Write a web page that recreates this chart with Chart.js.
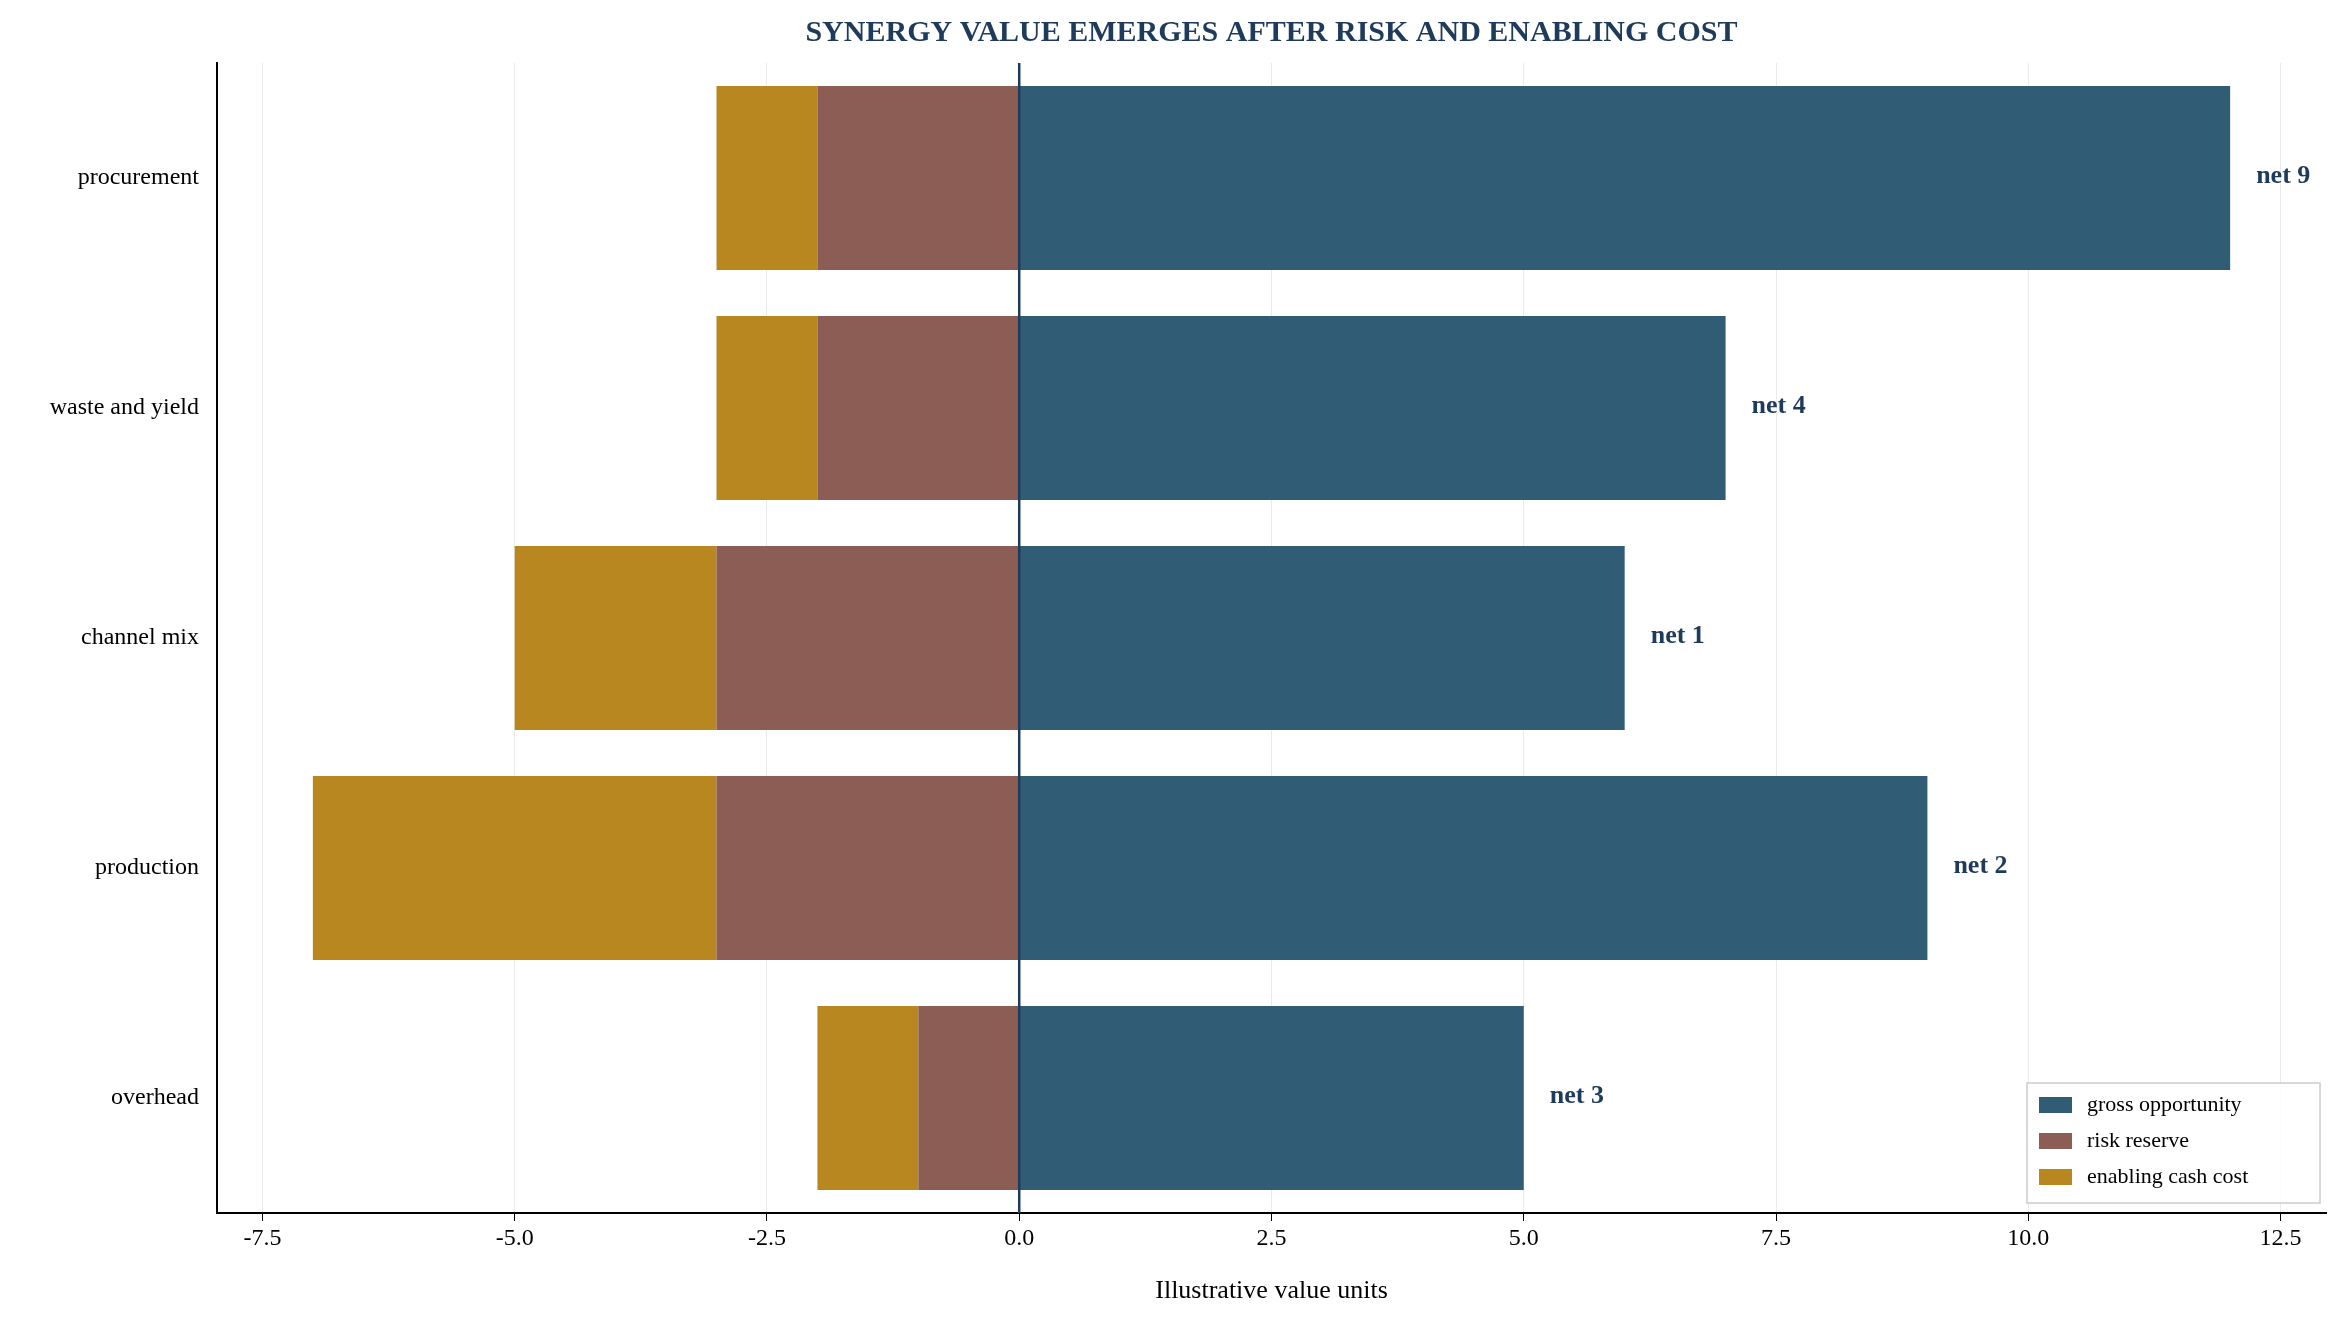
<!DOCTYPE html>
<html>
<head>
<meta charset="utf-8">
<script src="https://cdn.jsdelivr.net/npm/chart.js@4"></script>
<style>
  html, body { margin: 0; padding: 0; background: #fff; }
  #wrap { width: 2337px; height: 1319px; }
</style>
</head>
<body>
<div id="wrap"><canvas id="chart"></canvas></div>
<script>
// datos
const categorias = ['procurement', 'waste and yield', 'channel mix', 'production', 'overhead'];
const bruto = [12, 7, 6, 9, 5];
const riesgo = [-2, -2, -3, -3, -1];
const costo = [-1, -1, -2, -4, -1];
const netos = [9, 4, 1, 2, 3];
const ticksX = [-7.5, -5, -2.5, 0, 2.5, 5, 7.5, 10, 12.5];

const FUENTE = '"Liberation Serif", "Times New Roman", serif';
const AZUL = '#1f3b5c';

// titulo, linea del cero, etiquetas "net" y leyenda
const extras = {
  id: 'extras',
  afterDatasetsDraw(chart) {
    const ctx = chart.ctx;
    const x = chart.scales.x, y = chart.scales.y;
    const area = chart.chartArea;

    ctx.save();
    ctx.strokeStyle = AZUL;
    ctx.lineWidth = 2.5;
    ctx.beginPath();
    ctx.moveTo(x.getPixelForValue(0), area.top);
    ctx.lineTo(x.getPixelForValue(0), area.bottom);
    ctx.stroke();

    ctx.fillStyle = AZUL;
    ctx.font = 'bold 26px ' + FUENTE;
    ctx.textBaseline = 'middle';
    ctx.textAlign = 'left';
    netos.forEach((n, i) => {
      ctx.fillText('net ' + n, x.getPixelForValue(bruto[i]) + 26, y.getPixelForValue(i) - 2);
    });

    ctx.font = 'bold 30px ' + FUENTE;
    ctx.textAlign = 'center';
    ctx.fillText('SYNERGY VALUE EMERGES AFTER RISK AND ENABLING COST', (area.left + area.right) / 2, 33);

    // leyenda
    const bx = 2027, by = 1083, bw = 293, bh = 120;
    ctx.fillStyle = 'rgba(255,255,255,0.85)';
    ctx.fillRect(bx, by, bw, bh);
    ctx.strokeStyle = '#cccccc';
    ctx.lineWidth = 1.5;
    ctx.strokeRect(bx, by, bw, bh);
    ctx.font = '22px ' + FUENTE;
    ctx.textAlign = 'left';
    chart.data.datasets.forEach((ds, i) => {
      const ry = by + 22 + i * 36;
      ctx.fillStyle = ds.backgroundColor;
      ctx.fillRect(bx + 12, ry - 8, 33, 16);
      ctx.fillStyle = '#000';
      ctx.fillText(ds.label, bx + 60, ry);
    });
    ctx.restore();
  }
};

new Chart(document.getElementById('chart'), {
  type: 'bar',
  data: {
    labels: categorias,
    datasets: [
      { label: 'gross opportunity', data: bruto, backgroundColor: '#305d75' },
      { label: 'risk reserve', data: riesgo, backgroundColor: '#8b5d55' },
      { label: 'enabling cash cost', data: costo, backgroundColor: '#b8871f' }
    ]
  },
  options: {
    indexAxis: 'y',
    responsive: true,
    maintainAspectRatio: false,
    animation: false,
    layout: { padding: { top: 63, right: 11, bottom: 8, left: 8 } },
    datasets: { bar: { barPercentage: 0.8, categoryPercentage: 1 } },
    scales: {
      x: {
        stacked: true,
        min: -7.95,
        max: 12.95,
        afterBuildTicks: s => { s.ticks = ticksX.map(v => ({ value: v })); },
        afterFit: s => { s.height = 98; },
        grid: { color: 'rgba(0,0,0,0.08)', drawTicks: true, tickColor: '#000', tickLength: 8 },
        border: { color: '#000', width: 2 },
        ticks: { color: '#000', font: { family: FUENTE, size: 24 }, callback: v => v.toFixed(1) },
        title: { display: true, text: 'Illustrative value units', color: '#000', font: { family: FUENTE, size: 26 }, padding: 4 }
      },
      y: {
        stacked: true,
        afterFit: s => { s.width = 209; },
        grid: { display: false, drawTicks: true, tickColor: '#000', tickLength: 8 },
        border: { color: '#000', width: 2 },
        ticks: { color: '#000', font: { family: FUENTE, size: 24 }, padding: 10 }
      }
    },
    plugins: {
      legend: { display: false },
      title: { display: false },
      tooltip: { enabled: false }
    }
  },
  plugins: [extras]
});
</script>
</body>
</html>
